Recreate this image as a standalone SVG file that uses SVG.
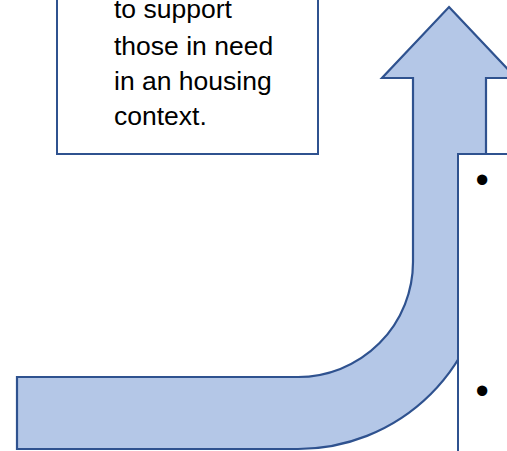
<svg xmlns="http://www.w3.org/2000/svg" width="507" height="451" viewBox="0 0 507 451">
<style>
.box{fill:#ffffff;stroke:#2F528F;stroke-width:2}
.arrow{fill:#B4C7E7;stroke:#2F528F;stroke-width:2.2;stroke-linejoin:miter}
.t{font-family:"Liberation Sans",Arial,sans-serif;font-size:26.5px;fill:#000000}
.b{font-family:"Liberation Sans",Arial,sans-serif;font-size:38px;fill:#000000}
</style>
<g id="arrow">
<path class="arrow" d="M449,7 L516,78 L486,78 L486,262 A188,188 0 0 1 298,449 L17,449 L17,377 L298,377 A115,115 0 0 0 413,262 L413,78 L382,78 Z"/>
</g>
<g id="box-left">
<rect class="box" x="57" y="-10" width="261" height="164"/>
<text class="t" x="114" y="18">to support</text>
<text class="t" x="114" y="54.5">those in need</text>
<text class="t" x="114" y="90">in an housing</text>
<text class="t" x="114" y="125">context.</text>
</g>
<g id="box-right">
<rect class="box" x="458" y="154" width="60" height="310"/>
<text class="b" x="475.5" y="193">•</text>
<text class="b" x="475.5" y="404">•</text>
</g>
<g id="connectors"></g>
</svg>
